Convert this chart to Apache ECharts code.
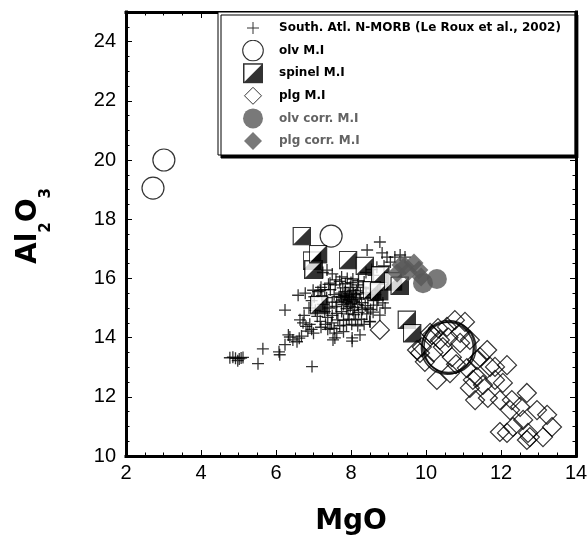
<!DOCTYPE html>
<html>
<head>
<meta charset="utf-8">
<script src="https://cdn.jsdelivr.net/npm/echarts@6/dist/echarts.min.js"></script>
<style>
  html, body { margin: 0; padding: 0; background: #fff; }
  #chart { width: 588px; height: 535px; }
</style>
</head>
<body>
<div id="chart"></div>
<script>
// Axis ticks
const xTicks = [2, 4, 6, 8, 10, 12, 14];
const yTicks = [10, 12, 14, 16, 18, 20, 22, 24];

// South Atlantic N-MORB glasses [MgO, Al2O3]
const morb = [
  [4.77,13.32],[4.85,13.34],[4.92,13.30],[4.98,13.22],[5.02,13.28],[5.07,13.31],[5.12,13.33],
  [5.52,13.12],[5.65,13.62],[6.08,13.52],[6.10,13.42],[6.24,13.76],[6.33,14.09],[6.37,14.02],
  [6.45,13.92],[6.56,13.86],[6.62,13.98],[6.68,14.05],[6.96,13.02],[6.24,14.93],[6.59,15.43],
  [6.64,14.60],[6.72,14.50],[6.80,14.38],[6.85,14.22],[6.95,14.28],[7.00,14.15],[6.90,14.45],
  [6.75,14.75],[6.88,15.00],[6.95,15.25],[6.78,15.50],[7.02,15.38],
  [7.82,15.42],[7.88,15.31],[7.95,15.48],[8.02,15.36],[8.08,15.22],[7.91,15.18],[7.76,15.27],
  [8.12,15.45],[8.18,15.12],[7.98,15.05],[7.85,15.55],[8.05,15.60],[7.72,15.50],[8.22,15.30],
  [7.94,15.28],[8.00,15.15],[7.80,15.12],[8.10,15.02],[7.88,14.98],[8.15,15.58],[7.68,15.38],
  [8.25,15.48],[7.98,15.70],[7.78,15.68],[8.28,15.18],[7.62,15.20],[8.05,14.92],[7.90,15.38],
  [8.03,15.27],[7.84,15.22],[7.96,15.40],[8.07,15.50],[7.86,15.44],[7.74,15.36],[8.14,15.34],
  [7.45,15.62],[7.55,15.45],[7.35,15.35],[7.50,15.20],[7.60,15.05],[7.42,15.00],[7.58,15.78],
  [7.70,15.90],[7.85,15.82],[8.00,15.86],[8.18,15.78],[8.32,15.70],[8.40,15.52],[8.45,15.35],
  [8.38,15.08],[8.30,14.95],[8.20,14.85],[8.08,14.78],[7.92,14.80],[7.75,14.88],[7.62,14.82],
  [7.50,14.75],[7.38,14.68],[7.30,14.88],[7.25,15.12],[7.22,15.42],[7.30,15.62],[7.40,15.80],
  [7.20,15.70],[7.12,15.55],[8.50,15.65],[8.55,15.45],[8.60,15.25],[8.52,14.95],[8.42,14.80],
  [8.28,14.62],[8.12,14.60],[7.95,14.62],[7.80,14.58],[7.65,14.60],[7.48,14.50],[7.32,14.45],
  [7.18,14.55],[7.10,14.72],[7.05,14.92],
  [7.20,14.35],[7.38,14.28],[7.55,14.30],[7.70,14.40],[7.88,14.42],[8.02,14.45],[8.18,14.40],
  [8.35,14.45],[8.50,14.55],[7.44,14.32],[7.52,13.92],[7.57,13.99],[8.03,13.99],[8.24,14.09],
  [8.03,13.88],[7.62,14.15],[7.80,14.20],[6.99,15.60],[7.18,15.60],[7.44,15.84],[7.60,15.95],
  [7.75,16.05],[7.90,16.00],[8.05,15.98],[8.20,15.92],[8.35,15.88],[7.36,16.28],[7.25,16.20],
  [7.50,16.15],[8.69,15.10],[8.59,14.86],[8.91,15.00],[8.77,14.76],[8.51,14.53],[8.45,15.00],
  [8.72,15.27],[8.85,15.17],[8.65,15.45],[8.70,15.60],
  [8.77,17.23],[8.43,16.96],[8.83,16.86],[8.96,16.72],[9.17,16.72],[9.31,16.79],[9.44,16.72],
  [8.69,16.38],[8.88,16.42],[8.55,16.30],[8.40,16.20],[8.60,16.10],[9.05,16.55]
];

// Olivine-hosted melt inclusions
const olvMI = [[2.72,19.05],[3.01,20.00],[7.47,17.43]];
const olvMILarge = [[10.60,13.70],[10.64,13.66],[10.57,13.64]];

// Spinel-hosted melt inclusions
const spinelMI = [
  [6.96,16.60],[6.69,17.43],[7.00,16.30],[7.12,16.82],[7.15,15.10],[7.92,16.62],[8.37,16.42],
  [8.78,16.10],[8.56,15.60],[8.75,15.57],[9.12,15.90],[9.30,15.75],[9.49,14.60],[9.63,14.15]
];

// Plagioclase-hosted melt inclusions
const plgMI = [
  [8.77,14.26],[10.77,14.59],[11.04,14.53],[10.32,14.32],[10.56,14.36],[10.16,14.09],[9.89,13.68],
  [9.84,13.48],[10.45,13.68],[10.69,13.34],[10.91,13.82],[11.17,13.92],[10.29,12.57],[10.64,12.80],
  [11.09,12.97],[11.44,13.34],[11.63,13.58],[11.84,13.01],[12.16,13.07],[11.36,12.67],[11.17,12.30],
  [11.52,12.40],[11.31,11.89],[11.65,11.96],[11.84,12.57],[12.05,12.47],[12.29,11.89],[11.97,11.89],
  [12.69,12.13],[12.51,11.66],[12.24,11.55],[12.96,11.55],[13.23,11.39],[11.97,10.81],[12.32,10.98],
  [12.72,10.78],[13.12,10.64],[13.36,10.98],[12.69,10.54],[12.16,10.78],[11.71,13.01],[10.11,14.16],
  [9.76,13.58],[11.25,12.57],[11.36,13.24],[12.59,11.22],[12.77,10.64],[10.37,13.92],[9.97,13.18],
  [10.91,14.16],[10.20,13.50],[10.60,14.00],[10.80,13.10]
];

// Corrected compositions
const olvCorr = [[9.92,15.84],[10.29,15.98]];
const plgCorr = [[9.23,16.18],[9.33,16.45],[9.44,16.42],[9.52,16.22],[9.68,16.52],[9.81,16.28],[9.87,16.05]];

const legendNames = [
  'South. Atl. N-MORB (Le Roux et al., 2002)',
  'olv M.I', 'spinel M.I', 'plg M.I', 'olv corr. M.I', 'plg corr. M.I'
];

const GREY = '#585858';
const GREY_TEXT = '#636363';
const FONT = '"Liberation Sans", Arial, Helvetica, sans-serif';
const LEGEND_FONT = '"DejaVu Sans", "Liberation Sans", sans-serif';
const TITLE_FONT = '"DejaVu Sans", sans-serif';

function svgImage(body, size) {
  const svg = '<svg xmlns="http://www.w3.org/2000/svg" width="' + size + '" height="' + size +
    '" viewBox="0 0 ' + size + ' ' + size + '">' + body + '</svg>';
  return 'image://data:image/svg+xml;charset=utf-8,' + encodeURIComponent(svg);
}

// half-filled square marker for spinel inclusions
const spinelSymbol = svgImage(
  '<rect x="0.75" y="0.75" width="18.5" height="18.5" fill="#fff" stroke="#000" stroke-width="1.5"/>' +
  '<path d="M19.25 0.75 L19.25 19.25 L0.75 19.25 Z" fill="#000"/>', 20);

const legendIcons = [
  svgImage('<path d="M5 11 H17 M11 5 V17" stroke="#000" stroke-width="1" fill="none"/>', 22),
  svgImage('<circle cx="11" cy="11" r="10.3" fill="#fff" stroke="#000" stroke-width="1.1"/>', 22),
  svgImage('<rect x="1.75" y="1.75" width="18.5" height="18.5" fill="#fff" stroke="#000" stroke-width="1.5"/>' +
           '<path d="M20.25 1.75 L20.25 20.25 L1.75 20.25 Z" fill="#000"/>', 22),
  svgImage('<path d="M11 2.5 L19.5 11 L11 19.5 L2.5 11 Z" fill="#fff" stroke="#000" stroke-width="1"/>', 22),
  svgImage('<circle cx="11" cy="11" r="10" fill="' + GREY + '"/>', 22),
  svgImage('<path d="M11 2 L20 11 L11 20 L2 11 Z" fill="' + GREY + '"/>', 22)
];

const frameLine = { show: true, onZero: false, lineStyle: { color: '#000', width: 3, cap: 'square' } };
const majorTick = { show: true, inside: true, length: 6, lineStyle: { color: '#000', width: 1 } };
const minorTickStyle = { show: true, inside: true, length: 3.5, lineStyle: { color: '#000', width: 1 } };

function xAxisDef(position, withLabels) {
  return {
    type: 'value', position: position, min: xTicks[0], max: xTicks[xTicks.length - 1], interval: 2,
    axisLine: frameLine, axisTick: majorTick,
    minorTick: { show: true, splitNumber: 4, length: 3.5, lineStyle: { color: '#000', width: 1 } },
    axisLabel: withLabels ? { show: true, color: '#000', fontSize: 20, fontFamily: FONT, margin: 7 } : { show: false },
    splitLine: { show: false }, minorSplitLine: { show: false },
    name: withLabels ? 'MgO' : '', nameLocation: 'middle', nameGap: 52,
    nameTextStyle: { fontFamily: TITLE_FONT, fontWeight: 'bold', fontSize: 28, color: '#000' }
  };
}

function yAxisMajor(position, withLabels) {
  return {
    type: 'value', position: position, min: 10, max: 25, interval: 2,
    axisLine: frameLine,
    axisTick: Object.assign({ customValues: yTicks }, majorTick),
    axisLabel: withLabels
      ? { show: true, customValues: yTicks, color: '#000', fontSize: 20, fontFamily: FONT, margin: 10 }
      : { show: false },
    splitLine: { show: false },
    name: withLabels ? '{m|Al}{s|2}O{s|3}' : '', nameLocation: 'middle', nameGap: 83, nameRotate: 90,
    nameTextStyle: {
      fontFamily: TITLE_FONT, fontWeight: 'bold', fontSize: 28, color: '#000',
      rich: {
        m: { fontFamily: TITLE_FONT, fontWeight: 'bold', fontSize: 28, color: '#000',
             padding: [0, 0, 0, 16] },
        s: { fontFamily: TITLE_FONT, fontWeight: 'bold', fontSize: 15, lineHeight: 16,
             padding: [34, 0, 0, 0], color: '#000' }
      }
    }
  };
}

function yAxisMinor(position) {
  return {
    type: 'value', position: position, min: 10, max: 25, interval: 0.5,
    axisLine: { show: false }, axisTick: minorTickStyle,
    axisLabel: { show: false }, splitLine: { show: false }
  };
}

const plain = { silent: true, animation: false, emphasis: { disabled: true } };

const chart = echarts.init(document.getElementById('chart'), null, { renderer: 'canvas' });
chart.setOption({
  animation: false,
  backgroundColor: '#fff',
  grid: { left: 126, right: 12, top: 12, bottom: 79, containLabel: false, outerBoundsMode: 'none' },
  xAxis: [xAxisDef('bottom', true), xAxisDef('top', false)],
  yAxis: [yAxisMajor('left', true), yAxisMinor('left'), yAxisMajor('right', false), yAxisMinor('right')],
  legend: {
    orient: 'vertical', left: 218, top: 12,
    padding: [5, 14, 3, 14],
    itemWidth: 42, itemHeight: 22, itemGap: 0.6,
    backgroundColor: '#fff', borderColor: '#000', borderWidth: 1,
    shadowColor: '#000', shadowBlur: 0, shadowOffsetX: 3, shadowOffsetY: 3,
    selectedMode: false,
    textStyle: { fontFamily: LEGEND_FONT, fontWeight: 'bold', fontSize: 12, color: '#000' },
    data: legendNames.map(function (n, i) {
      return {
        name: n, icon: legendIcons[i],
        textStyle: { color: i >= 4 ? GREY_TEXT : '#000', fontWeight: 'bold', fontSize: 12, fontFamily: LEGEND_FONT }
      };
    })
  },
  series: [
    Object.assign({
      name: legendNames[0], type: 'scatter', data: morb, z: 2,
      symbol: 'path://M0,6H12M6,0V12', symbolSize: 12,
      itemStyle: { color: 'none', borderColor: '#000', borderWidth: 1.3 }
    }, plain),
    Object.assign({
      name: legendNames[2], type: 'scatter', data: spinelMI, z: 3,
      symbol: spinelSymbol, symbolSize: 19
    }, plain),
    Object.assign({
      name: legendNames[3], type: 'scatter', data: plgMI, z: 4,
      symbol: 'diamond', symbolSize: 19,
      itemStyle: { color: 'rgba(255,255,255,0)', borderColor: '#000', borderWidth: 1.2 }
    }, plain),
    Object.assign({
      name: legendNames[1], type: 'scatter', data: olvMI, z: 5,
      symbol: 'circle', symbolSize: 22,
      itemStyle: { color: 'rgba(255,255,255,0)', borderColor: '#000', borderWidth: 1.2 }
    }, plain),
    Object.assign({
      name: legendNames[1], type: 'scatter', data: olvMILarge, z: 5,
      symbol: 'circle', symbolSize: 52,
      itemStyle: { color: 'rgba(255,255,255,0)', borderColor: '#000', borderWidth: 1.5 }
    }, plain),
    Object.assign({
      name: legendNames[5], type: 'scatter', data: plgCorr, z: 6,
      symbol: 'diamond', symbolSize: 19,
      itemStyle: { color: GREY }
    }, plain),
    Object.assign({
      name: legendNames[4], type: 'scatter', data: olvCorr, z: 6,
      symbol: 'circle', symbolSize: 20,
      itemStyle: { color: GREY }
    }, plain)
  ]
});
</script>
</body>
</html>
